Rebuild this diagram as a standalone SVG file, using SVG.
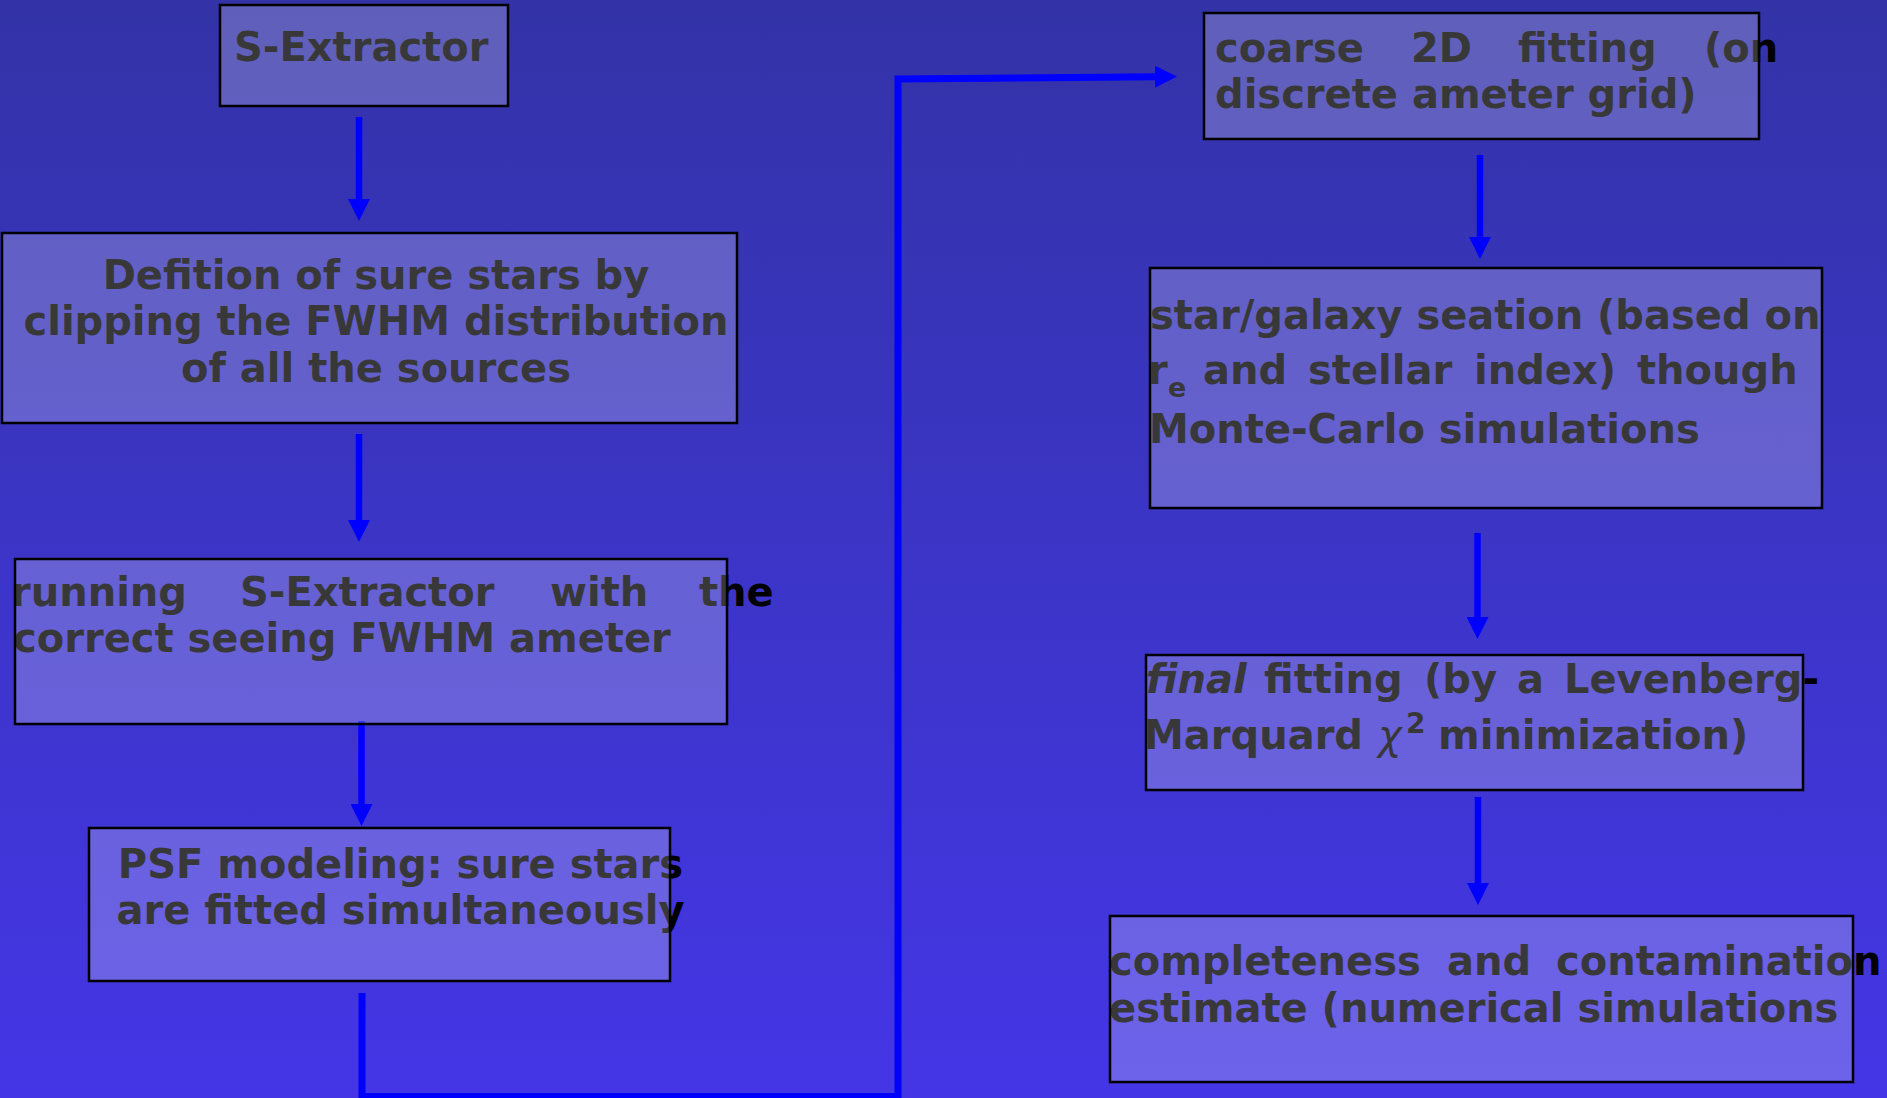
<svg xmlns="http://www.w3.org/2000/svg" width="1887" height="1098" viewBox="0 0 1887 1098">
<defs>
<linearGradient id="bg" x1="0" y1="0" x2="0" y2="1">
<stop offset="0" stop-color="#3333a7"/>
<stop offset="1" stop-color="#4436e6"/>
</linearGradient>
<marker id="ah" markerUnits="userSpaceOnUse" markerWidth="22" markerHeight="22" refX="0" refY="11" orient="auto" viewBox="0 0 22 22">
<path d="M0,0 L22,11 L0,22 Z" fill="#0000ff"/>
</marker>
<style>
.t{font-family:"DejaVu Sans","Liberation Sans",sans-serif;font-weight:bold;font-size:40px;fill:#000}
.box{fill:#ffffff;fill-opacity:0.22;stroke:#000;stroke-width:2.5}
.c{fill:none;stroke:#0000ff;stroke-width:6.5}
.it{font-style:italic}
.chi{font-style:italic;font-weight:normal}
</style>
</defs>
<rect width="1887" height="1098" fill="url(#bg)"/>
<g id="connectors">
<line class="c" x1="359" y1="117" x2="359" y2="199" marker-end="url(#ah)"/>
<line class="c" x1="359" y1="434" x2="359" y2="520" marker-end="url(#ah)"/>
<line class="c" x1="361.5" y1="721" x2="361.5" y2="804" marker-end="url(#ah)"/>
<path class="c" style="stroke-width:7" d="M362 993 V1096.5 H898 V79 L1155 76.7" marker-end="url(#ah)"/>
<line class="c" x1="1480" y1="155" x2="1480" y2="237" marker-end="url(#ah)"/>
<line class="c" x1="1477.5" y1="533" x2="1477.5" y2="617" marker-end="url(#ah)"/>
<line class="c" x1="1478" y1="797" x2="1478" y2="883" marker-end="url(#ah)"/>
</g>
<g id="n1">
<text class="t" x="234" y="61">S-Extractor</text>
<rect class="box" x="220" y="5" width="288" height="101"/>
</g>
<g id="n2">
<text class="t" text-anchor="middle"><tspan x="376" y="289">Defition of sure stars by</tspan><tspan x="376" y="335">clipping the FWHM distribution</tspan><tspan x="376" y="381.5">of all the sources</tspan></text>
<rect class="box" x="2" y="233" width="735" height="190"/>
</g>
<g id="n3">
<text class="t" y="606"><tspan x="11">running</tspan><tspan x="240">S-Extractor</tspan><tspan x="550">with</tspan><tspan x="699">the</tspan></text>
<text class="t" x="13" y="652">correct seeing FWHM ameter</text>
<rect class="box" x="15" y="559" width="712" height="165"/>
</g>
<g id="n4">
<text class="t" text-anchor="middle"><tspan x="400.5" y="878">PSF modeling: sure stars</tspan><tspan x="400.5" y="924">are fitted simultaneously</tspan></text>
<rect class="box" x="89" y="828" width="581" height="153"/>
</g>
<g id="n5">
<text class="t" y="62"><tspan x="1215">coarse</tspan><tspan x="1411">2D</tspan><tspan x="1518">fitting</tspan><tspan x="1704">(on</tspan></text>
<text class="t" x="1215" y="108">discrete ameter grid)</text>
<rect class="box" x="1204" y="13" width="555" height="126"/>
</g>
<g id="n6">
<text class="t" x="1150" y="329">star/galaxy seation (based on</text>
<text class="t" y="384"><tspan x="1148">r</tspan><tspan x="1168" y="397" font-size="27">e</tspan><tspan x="1203" y="384">and</tspan><tspan x="1308">stellar</tspan><tspan x="1474">index)</tspan><tspan x="1637">though</tspan></text>
<text class="t" x="1149" y="443">Monte-Carlo simulations</text>
<rect class="box" x="1150" y="268" width="672" height="240"/>
</g>
<g id="n7">
<text class="t" y="693"><tspan class="it" x="1146">final</tspan><tspan x="1264">fitting</tspan><tspan x="1424">(by</tspan><tspan x="1517">a</tspan><tspan x="1564">Levenberg-</tspan></text>
<text class="t" y="749"><tspan x="1144">Marquard</tspan><tspan class="chi" x="1378">χ</tspan><tspan x="1406" y="733" font-size="28">2</tspan><tspan x="1438" y="749">minimization)</tspan></text>
<rect class="box" x="1146" y="655" width="657" height="135"/>
</g>
<g id="n8">
<text class="t" y="975"><tspan x="1109">completeness</tspan><tspan x="1447">and</tspan><tspan x="1556">contamination</tspan></text>
<text class="t" x="1109" y="1022">estimate (numerical simulations</text>
<rect class="box" x="1110" y="916" width="743" height="166"/>
</g>
</svg>
